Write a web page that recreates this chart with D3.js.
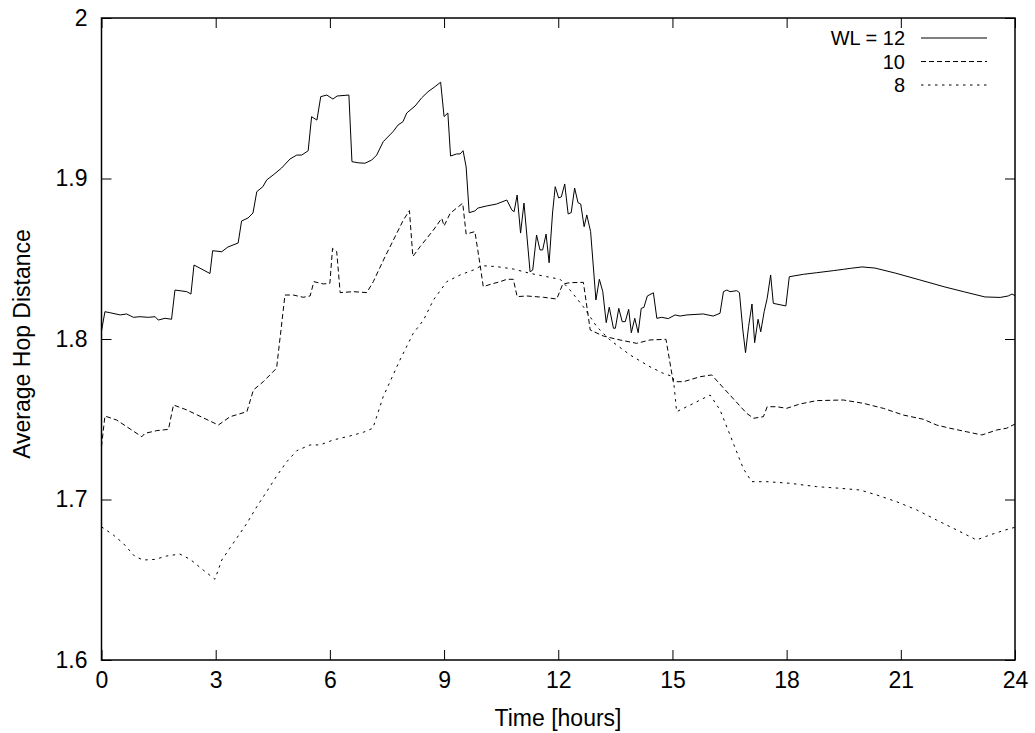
<!DOCTYPE html>
<html>
<head>
<meta charset="utf-8">
<script src="https://cdn.jsdelivr.net/npm/d3@7"></script>
<style>
  body { margin: 0; background: #fff; }
  svg text { font-family: "Liberation Sans", Arial, sans-serif; fill: #000; }
</style>
</head>
<body>
<svg id="chart"></svg>
<script>
(function () {

  var width = 1035, height = 733;
  var margin = { top: 18, right: 20, bottom: 73, left: 101.5 };

  // series: [hour, average hop distance]
  var wl12 = [
    [0, 1.805], [0.09, 1.817], [0.22, 1.8164], [0.49, 1.815], [0.66, 1.8156], [0.84, 1.8135],
    [1.01, 1.8139], [1.23, 1.8135], [1.41, 1.8139], [1.49, 1.8118], [1.67, 1.8129], [1.84, 1.8123],
    [1.93, 1.8305], [2.24, 1.8295], [2.35, 1.828], [2.43, 1.8461], [2.85, 1.8408], [2.92, 1.855],
    [3.16, 1.8544], [3.32, 1.8573], [3.59, 1.8598], [3.68, 1.8735], [3.85, 1.8754], [3.98, 1.8785],
    [4.08, 1.8918], [4.24, 1.8949], [4.34, 1.8991], [4.51, 1.9022], [4.73, 1.9065], [4.95, 1.9121],
    [5.13, 1.9146], [5.26, 1.9146], [5.43, 1.9173], [5.52, 1.9385], [5.66, 1.9364], [5.76, 1.951],
    [5.92, 1.952], [6.08, 1.9495], [6.19, 1.9514], [6.50, 1.952], [6.58, 1.9105], [6.74, 1.9098],
    [6.92, 1.9095], [7.10, 1.9115], [7.23, 1.9146], [7.40, 1.9229], [7.66, 1.9292], [7.79, 1.9333],
    [7.92, 1.9354], [8.02, 1.9408], [8.24, 1.9452], [8.41, 1.9502], [8.58, 1.9541], [8.76, 1.9572],
    [8.91, 1.960], [9.00, 1.9386], [9.10, 1.9408], [9.17, 1.914], [9.33, 1.9153], [9.42, 1.9153],
    [9.50, 1.9173], [9.58, 1.9072], [9.66, 1.8787], [9.81, 1.8798], [9.89, 1.8816], [10.12, 1.8829],
    [10.38, 1.8841], [10.65, 1.8866], [10.78, 1.8804], [10.84, 1.8793], [10.92, 1.8897], [11.01, 1.866],
    [11.10, 1.8847], [11.26, 1.8419], [11.33, 1.843], [11.43, 1.8648], [11.52, 1.8555], [11.59, 1.8555],
    [11.68, 1.8654], [11.76, 1.8475], [11.85, 1.8785], [11.92, 1.8949], [12.01, 1.8879], [12.08, 1.8885],
    [12.17, 1.8966], [12.26, 1.8779], [12.34, 1.8787], [12.43, 1.8941], [12.52, 1.8849], [12.59, 1.8841],
    [12.68, 1.870], [12.75, 1.8773], [12.85, 1.8669], [12.99, 1.8243], [13.08, 1.8372], [13.17, 1.8295],
    [13.26, 1.8102], [13.34, 1.8198], [13.45, 1.8067], [13.50, 1.8067], [13.59, 1.8191], [13.68, 1.8108],
    [13.76, 1.8108], [13.85, 1.8185], [13.92, 1.8039], [14.01, 1.8129], [14.10, 1.8039], [14.18, 1.8191],
    [14.25, 1.8197], [14.34, 1.8268], [14.50, 1.8288], [14.59, 1.8129], [14.72, 1.8135], [14.89, 1.8127],
    [15.07, 1.815], [15.20, 1.8143], [15.38, 1.815], [15.81, 1.8156], [16.07, 1.8143], [16.25, 1.816],
    [16.34, 1.8295], [16.43, 1.8305], [16.51, 1.8295], [16.69, 1.8301], [16.76, 1.8289], [16.85, 1.8056],
    [16.92, 1.7915], [17.00, 1.8077], [17.09, 1.8218], [17.16, 1.7977], [17.25, 1.8123], [17.32, 1.8045],
    [17.41, 1.817], [17.49, 1.8254], [17.58, 1.8399], [17.65, 1.8222], [17.98, 1.8206], [18.07, 1.8388],
    [18.44, 1.8403], [18.79, 1.8413], [19.23, 1.8426], [19.49, 1.8434], [19.67, 1.844], [19.98, 1.8449],
    [20.32, 1.8442], [20.85, 1.8411], [21.50, 1.8368], [22.16, 1.8324], [22.68, 1.8293], [23.21, 1.8262],
    [23.61, 1.8259], [23.82, 1.8268], [23.92, 1.828], [24, 1.827]
  ];

  var wl10 = [
    [0, 1.733], [0.09, 1.752], [0.40, 1.7495], [0.66, 1.7454], [1.06, 1.7391], [1.14, 1.7412],
    [1.45, 1.7429], [1.76, 1.7437], [1.89, 1.7589], [2.24, 1.7558], [3.07, 1.7464], [3.38, 1.7516],
    [3.82, 1.7547], [3.99, 1.7682], [4.25, 1.7734], [4.60, 1.7818], [4.82, 1.8274], [5.04, 1.8274],
    [5.30, 1.826], [5.48, 1.8268], [5.58, 1.8357], [5.83, 1.8343], [6.00, 1.8347], [6.07, 1.8565],
    [6.18, 1.8544], [6.27, 1.8289], [6.62, 1.8295], [6.97, 1.8289], [7.14, 1.8357], [7.45, 1.8513],
    [7.67, 1.8617], [7.93, 1.8741], [8.09, 1.880], [8.18, 1.8514], [8.37, 1.8575], [8.72, 1.8679],
    [8.94, 1.8752], [9.00, 1.8704], [9.16, 1.8783], [9.49, 1.8846], [9.58, 1.8654], [9.81, 1.8669],
    [9.94, 1.8472], [10.03, 1.8326], [10.25, 1.8343], [10.47, 1.8357], [10.65, 1.8372], [10.82, 1.8372],
    [10.92, 1.8264], [11.17, 1.8268], [11.61, 1.826], [11.96, 1.8249], [12.12, 1.8343], [12.31, 1.8351],
    [12.66, 1.8353], [12.84, 1.8056], [13.18, 1.8019], [13.54, 1.7998], [14.06, 1.7973], [14.41, 1.7994],
    [14.83, 1.7998], [15.02, 1.7734], [15.29, 1.7734], [15.73, 1.7765], [16.03, 1.7776], [16.51, 1.7651],
    [16.95, 1.7537], [17.13, 1.7506], [17.39, 1.7516], [17.49, 1.7578], [17.74, 1.7578], [18.00, 1.7568],
    [18.35, 1.7595], [18.79, 1.7616], [19.49, 1.762], [20.02, 1.7599], [20.54, 1.7568], [21.07, 1.7526],
    [21.59, 1.750], [21.94, 1.7464], [22.29, 1.7444], [22.73, 1.7422], [23.13, 1.7402], [23.52, 1.7433],
    [23.78, 1.7444], [24, 1.747]
  ];

  var wl8 = [
    [0, 1.683], [0.31, 1.6779], [0.57, 1.6727], [0.88, 1.6644], [1.10, 1.6623], [1.41, 1.6627],
    [1.71, 1.6648], [2.06, 1.666], [2.33, 1.6627], [2.67, 1.6561], [2.98, 1.6503], [3.16, 1.6623],
    [3.46, 1.6727], [3.82, 1.6852], [4.08, 1.6955], [4.34, 1.7049], [4.60, 1.7146], [4.87, 1.7236],
    [5.13, 1.7304], [5.48, 1.734], [5.74, 1.734], [6.09, 1.7371], [6.53, 1.7396], [6.88, 1.7419],
    [7.13, 1.7444], [7.40, 1.764], [7.84, 1.7869], [8.19, 1.8035], [8.46, 1.8118], [8.72, 1.8243],
    [9.07, 1.8357], [9.42, 1.8399], [9.77, 1.843], [9.99, 1.8457], [10.38, 1.8451], [10.82, 1.8436],
    [11.26, 1.8409], [11.70, 1.8388], [12.05, 1.8372], [12.31, 1.8305], [12.66, 1.8201], [13.01, 1.8077],
    [13.36, 1.7994], [13.89, 1.790], [14.41, 1.7827], [14.76, 1.7786], [15.02, 1.7765], [15.11, 1.7547],
    [15.64, 1.7609], [15.99, 1.7651], [16.25, 1.7558], [16.60, 1.735], [16.86, 1.7194], [17.08, 1.7111],
    [17.48, 1.7111], [18.09, 1.7101], [18.79, 1.708], [19.40, 1.707], [19.93, 1.7059], [20.37, 1.7028],
    [20.89, 1.6986], [21.42, 1.6935], [21.94, 1.6872], [22.47, 1.681], [22.99, 1.6748], [23.34, 1.6779],
    [23.69, 1.6806], [24, 1.6827]
  ];

  var seriesNames = ['WL = 12', '10', '8'];
  var xTicks = [0, 3, 6, 9, 12, 15, 18, 21, 24];
  var yTicks = [1.6, 1.7, 1.8, 1.9, 2.0];
  var yTickLabels = ['1.6', '1.7', '1.8', '1.9', '2'];

  var series = [
    { name: seriesNames[0], values: wl12, dash: null },
    { name: seriesNames[1], values: wl10, dash: '5,3' },
    { name: seriesNames[2], values: wl8, dash: '2.5,4.5' }
  ];

  var svg = d3.select('#chart')
    .attr('width', width)
    .attr('height', height);

  svg.append('rect').attr('width', width).attr('height', height).attr('fill', '#fff');

  var x = d3.scaleLinear().domain([0, 24]).range([margin.left, width - margin.right]);
  var y = d3.scaleLinear().domain([1.6, 2.0]).range([height - margin.bottom, margin.top]);

  var fontSize = 23;

  // axes, gnuplot style: ticks inward on all four sides
  svg.append('g')
    .attr('transform', 'translate(0,' + y.range()[0] + ')')
    .call(d3.axisBottom(x).tickValues(xTicks).tickSize(-10).tickPadding(12)
      .tickFormat(function (d) { return d; }));
  svg.append('g')
    .attr('transform', 'translate(' + x.range()[0] + ',0)')
    .call(d3.axisLeft(y).tickValues(yTicks).tickSize(-10).tickPadding(14)
      .tickFormat(function (d, i) { return yTickLabels[i]; }));
  svg.append('g')
    .attr('transform', 'translate(0,' + y.range()[1] + ')')
    .call(d3.axisTop(x).tickValues(xTicks).tickSize(-10).tickFormat(''));
  svg.append('g')
    .attr('transform', 'translate(' + x.range()[1] + ',0)')
    .call(d3.axisRight(y).tickValues(yTicks).tickSize(-10).tickFormat(''));

  svg.selectAll('.domain').remove();
  svg.selectAll('.tick line').attr('stroke', '#000').attr('stroke-width', 1);
  svg.selectAll('.tick text')
    .style('font-size', fontSize + 'px')
    .style('font-family', '"Liberation Sans", Arial, sans-serif')
    .attr('fill', '#000');

  // series lines
  var line = d3.line()
    .x(function (d) { return x(d[0]); })
    .y(function (d) { return y(d[1]); });

  svg.append('g').selectAll('path')
    .data(series)
    .join('path')
    .attr('d', function (d) { return line(d.values); })
    .attr('fill', 'none')
    .attr('stroke', '#000')
    .attr('stroke-width', 1)
    .attr('stroke-dasharray', function (d) { return d.dash; });

  // frame
  svg.append('rect')
    .attr('x', x.range()[0])
    .attr('y', y.range()[1])
    .attr('width', x.range()[1] - x.range()[0])
    .attr('height', y.range()[0] - y.range()[1])
    .attr('fill', 'none')
    .attr('stroke', '#000')
    .attr('stroke-width', 1.5);

  // legend (slightly smaller text so the rows do not collide)
  var legend = svg.append('g');
  series.forEach(function (s, i) {
    var ly = 38 + i * 23.5;
    legend.append('text')
      .attr('x', 905)
      .attr('y', ly + 7)
      .attr('text-anchor', 'end')
      .style('font-size', '20px')
      .text(s.name);
    legend.append('line')
      .attr('x1', 921).attr('x2', 987)
      .attr('y1', ly).attr('y2', ly)
      .attr('stroke', '#000')
      .attr('stroke-width', 1)
      .attr('stroke-dasharray', s.dash);
  });

  // axis titles
  svg.append('text')
    .attr('x', 558)
    .attr('y', 726)
    .attr('text-anchor', 'middle')
    .style('font-size', fontSize + 'px')
    .text('Time [hours]');

  svg.append('text')
    .attr('transform', 'translate(30,' + ((y.range()[0] + y.range()[1]) / 2 + 5) + ') rotate(-90)')
    .attr('text-anchor', 'middle')
    .style('font-size', fontSize + 'px')
    .text('Average Hop Distance');

})();
</script>
</body>
</html>
